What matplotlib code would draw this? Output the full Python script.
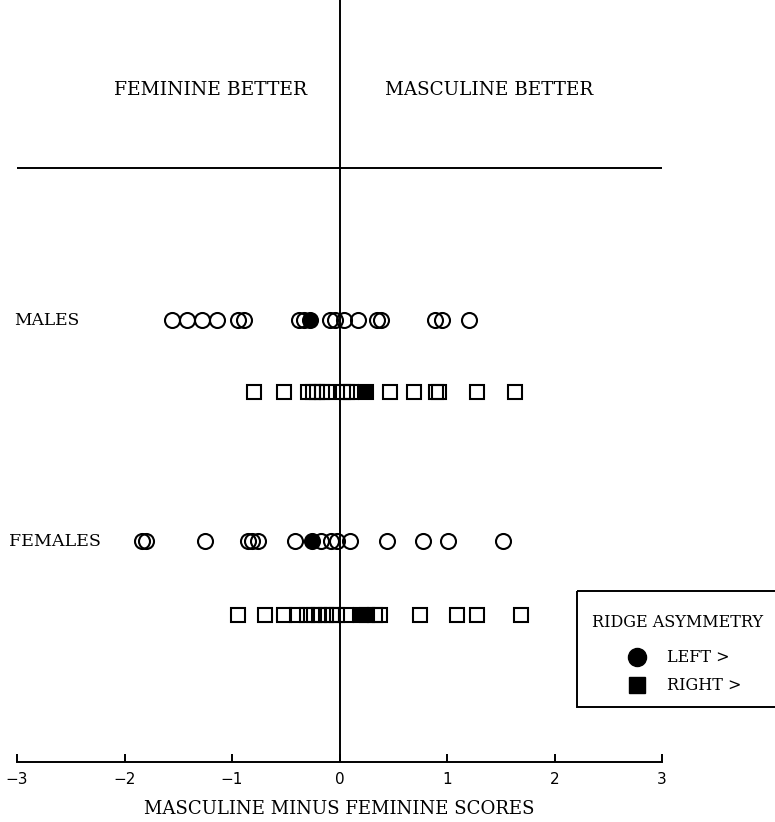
import matplotlib
matplotlib.use("Agg")
import matplotlib.pyplot as plt
from matplotlib.patches import Rectangle

plt.rcParams['font.family'] = ['DejaVu Serif']

# scores (masculine minus feminine)
male_circ_open = [-1.56, -1.42, -1.28, -1.14, -0.94, -0.89, -0.38, -0.33,
                  -0.09, -0.04, 0.04, 0.17, 0.35, 0.39, 0.89, 0.95, 1.20]
male_circ_fill = [-0.27]
male_sq_open = [-0.80, -0.52, -0.29, -0.25, -0.21, -0.16, -0.12, 0.03, 0.07,
                0.11, 0.47, 0.69, 0.90, 0.93, 1.28, 1.63]
male_sq_fill = [0.25]
fem_circ_open = [-1.84, -1.80, -1.25, -0.85, -0.81, -0.76, -0.41, -0.17,
                 -0.08, -0.02, 0.10, 0.44, 0.78, 1.01, 1.52]
fem_circ_fill = [-0.26]
fem_sq_open = [-0.94, -0.69, -0.52, -0.40, -0.30, -0.24, -0.19, -0.13, -0.07,
               -0.02, 0.06, 0.33, 0.38, 0.75, 1.09, 1.28, 1.69]
fem_sq_fill = [0.20, 0.26]

xticks = [-3, -2, -1, 0, 1, 2, 3]
xticklabels = ['\u22123', '\u22122', '\u22121', '0', '1', '2', '3']

# row levels (layout in pixel-like units, 0 at top)
ROW_MC, ROW_MS, ROW_FC, ROW_FS = 320, 392, 541, 615
AXIS_Y = 762

fig = plt.figure(figsize=(7.75, 8.22), dpi=100)
ax = fig.add_axes([17/775, 0, 645/775, 1])
ax.set_xlim(-3, 3)
ax.set_ylim(822, 0)

for s in ['top', 'left', 'right']:
    ax.spines[s].set_visible(False)
ax.spines['bottom'].set_position(('data', AXIS_Y))
ax.spines['bottom'].set_linewidth(1.4)
ax.set_yticks([])
ax.set_xticks(xticks)
ax.set_xticklabels(xticklabels, fontsize=11, family='DejaVu Sans')
ax.tick_params(axis='x', direction='in', length=6, width=1.4, pad=7.5)
ax.set_xlabel('MASCULINE MINUS FEMININE SCORES', fontsize=13.1, labelpad=9)

# dividing lines
ax.vlines(0, 0, AXIS_Y, color='black', lw=1.4)
ax.hlines(168, -3, 3, color='black', lw=1.4)

ax.text(-0.30, 90, 'FEMININE BETTER', ha='right', va='center', fontsize=13.5)
ax.text(0.42, 90, 'MASCULINE BETTER', ha='left', va='center', fontsize=13.2)
ax.text(-3.03, ROW_MC, 'MALES', ha='left', va='center', fontsize=12.3, clip_on=False)
ax.text(-3.07, ROW_FC, 'FEMALES', ha='left', va='center', fontsize=12.6, clip_on=False)

circ = dict(marker='o', ms=10.8, mew=1.5, mec='black', mfc='none', ls='none')
sq = dict(marker='s', ms=9.6, mew=1.5, mec='black', mfc='none', ls='none')

ax.plot(male_circ_open, [ROW_MC]*len(male_circ_open), **circ)
ax.plot(male_sq_open, [ROW_MS]*len(male_sq_open), **sq)
ax.plot(fem_circ_open, [ROW_FC]*len(fem_circ_open), **circ)
ax.plot(fem_sq_open, [ROW_FS]*len(fem_sq_open), **sq)
ax.plot(male_circ_fill, [ROW_MC]*len(male_circ_fill), **{**circ, 'mfc': 'black'})
ax.plot(male_sq_fill, [ROW_MS]*len(male_sq_fill), **{**sq, 'mfc': 'black'})
ax.plot(fem_circ_fill, [ROW_FC]*len(fem_circ_fill), **{**circ, 'mfc': 'black'})
ax.plot(fem_sq_fill, [ROW_FS]*len(fem_sq_fill), **{**sq, 'mfc': 'black'})

# legend box, drawn in a pixel overlay; it runs off the right edge
lg = fig.add_axes([0, 0, 1, 1], zorder=3)
lg.set_xlim(0, 775)
lg.set_ylim(822, 0)
lg.axis('off')
lg.add_patch(Rectangle((577, 591), 230, 116, fill=False, ec='black', lw=1.4,
                       clip_on=False))
lg.text(592, 622, 'RIDGE ASYMMETRY', ha='left', va='center', fontsize=11.5)
lg.plot([637], [657], marker='o', ms=13, color='black', ls='none')
lg.plot([637], [685], marker='s', ms=11, color='black', ls='none')
lg.text(667, 657, 'LEFT >', ha='left', va='center', fontsize=11.5)
lg.text(667, 685, 'RIGHT >', ha='left', va='center', fontsize=11.5)

fig.savefig('out.png', dpi=100)
